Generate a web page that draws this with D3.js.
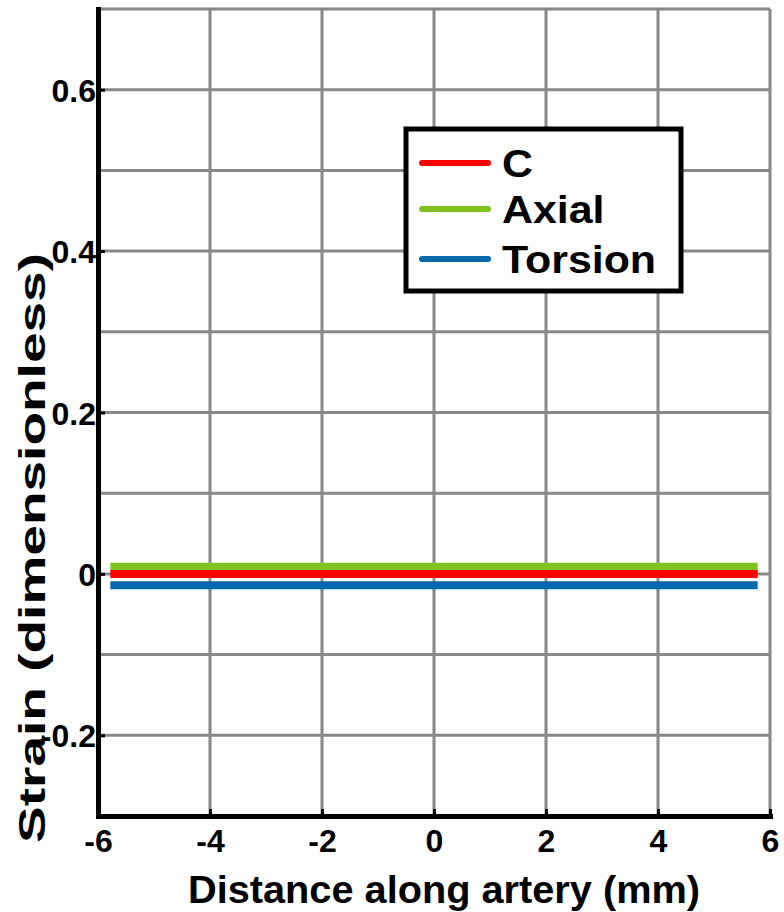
<!DOCTYPE html>
<html>
<head>
<meta charset="utf-8">
<script src="https://cdn.jsdelivr.net/npm/d3@7"></script>
<style>
  body { margin: 0; background: #fff; }
  text { font-family: "Liberation Sans", Arial, sans-serif; font-weight: bold; }
</style>
</head>
<body>
<svg id="chart" width="784" height="912"></svg>
<script>
// Data
var distance = [-5.78, 5.78];
var seriesNames = ["C", "Axial", "Torsion"];
var strainC = [0, 0];
var strainAxial = [0.009, 0.009];
var strainTorsion = [-0.014, -0.014];
var seriesColors = ["#ff0000", "#80c31f", "#0868ac"];
var xTicks = [-6, -4, -2, 0, 2, 4, 6];
var yTicks = [-0.2, 0, 0.2, 0.4, 0.6];
var yGrid = [-0.3, -0.2, -0.1, 0, 0.1, 0.2, 0.3, 0.4, 0.5, 0.6, 0.7];

var margin = {top: 9, right: 14, bottom: 96, left: 98},
    width = 784 - margin.left - margin.right,
    height = 912 - margin.top - margin.bottom;

var svg = d3.select("#chart")
    .append("g")
    .attr("transform", "translate(" + margin.left + "," + margin.top + ")");

var x = d3.scaleLinear().domain([-6, 6]).range([0, width]);
var y = d3.scaleLinear().domain([-0.3, 0.7]).range([height, 0]);

// grid
svg.append("g").selectAll("line").data(xTicks).enter().append("line")
    .attr("x1", d => x(d)).attr("x2", d => x(d))
    .attr("y1", 0).attr("y2", height)
    .attr("stroke", "#888").attr("stroke-width", 3);
svg.append("g").selectAll("line").data(yGrid).enter().append("line")
    .attr("x1", 0).attr("x2", width)
    .attr("y1", d => y(d)).attr("y2", d => y(d))
    .attr("stroke", "#888").attr("stroke-width", 3);

// series lines
var allSeries = [strainC, strainAxial, strainTorsion];
var line = d3.line().x((d, i) => x(distance[i])).y(d => y(d));
// draw torsion, axial first then C on top
[2, 1, 0].forEach(function(k) {
    svg.append("path")
        .datum(allSeries[k])
        .attr("d", line)
        .attr("fill", "none")
        .attr("stroke", seriesColors[k])
        .attr("stroke-width", 8);
});

// number format with plain hyphen
var fmt = d => d === 0 ? "0" : d3.format(".1f")(d).replace("\u2212", "-");
var fmtX = d => String(d);

// axes
var xAxis = svg.append("g")
    .attr("transform", "translate(0," + height + ")")
    .call(d3.axisBottom(x).tickValues(xTicks).tickSizeInner(-7).tickSizeOuter(0).tickFormat(fmtX));
var yAxis = svg.append("g")
    .call(d3.axisLeft(y).tickValues(yTicks).tickSizeInner(-7).tickSizeOuter(0).tickPadding(2).tickFormat(fmt));

[xAxis, yAxis].forEach(function(a) {
    a.select(".domain").attr("stroke", "#000").attr("stroke-width", 5).attr("stroke-linecap", "square");
    a.selectAll(".tick line").attr("stroke", "#000").attr("stroke-width", 3);
    a.selectAll(".tick text").attr("fill", "#000")
        .style("font-size", "32px").style("font-family", "Liberation Sans, Arial, sans-serif")
        .style("font-weight", "bold");
});
xAxis.selectAll(".tick text").attr("y", 36).attr("dy", 0);
yAxis.selectAll(".tick text").attr("dy", "0.36em");

// axis titles
svg.append("text")
    .attr("x", 444 - margin.left)
    .attr("y", 903 - margin.top)
    .style("text-anchor", "middle")
    .style("font-size", "39px")
    .attr("textLength", 512)
    .attr("lengthAdjust", "spacingAndGlyphs")
    .text("Distance along artery (mm)");

svg.append("text")
    .attr("transform", "rotate(-90)")
    .attr("x", -(548 - margin.top))
    .attr("y", 45 - margin.left)
    .style("text-anchor", "middle")
    .style("font-size", "37px")
    .attr("textLength", 590)
    .attr("lengthAdjust", "spacingAndGlyphs")
    .text("Strain (dimensionless)");

// legend
var legend = svg.append("g").attr("transform", "translate(" + (406 - margin.left) + "," + (129 - margin.top) + ")");
legend.append("rect")
    .attr("width", 275).attr("height", 162)
    .attr("fill", "#fff").attr("stroke", "#000").attr("stroke-width", 5);
var legendRowY = [34, 80, 130];
seriesNames.forEach(function(name, i) {
    legend.append("line")
        .attr("x1", 16).attr("x2", 82)
        .attr("y1", legendRowY[i]).attr("y2", legendRowY[i])
        .attr("stroke", seriesColors[i]).attr("stroke-width", 6)
        .attr("stroke-linecap", "round");
    legend.append("text")
        .attr("transform", "translate(96," + (legendRowY[i] + 14) + ") scale(1.1,1)")
        .style("font-size", "39px")
        .text(name);
});
</script>
</body>
</html>
